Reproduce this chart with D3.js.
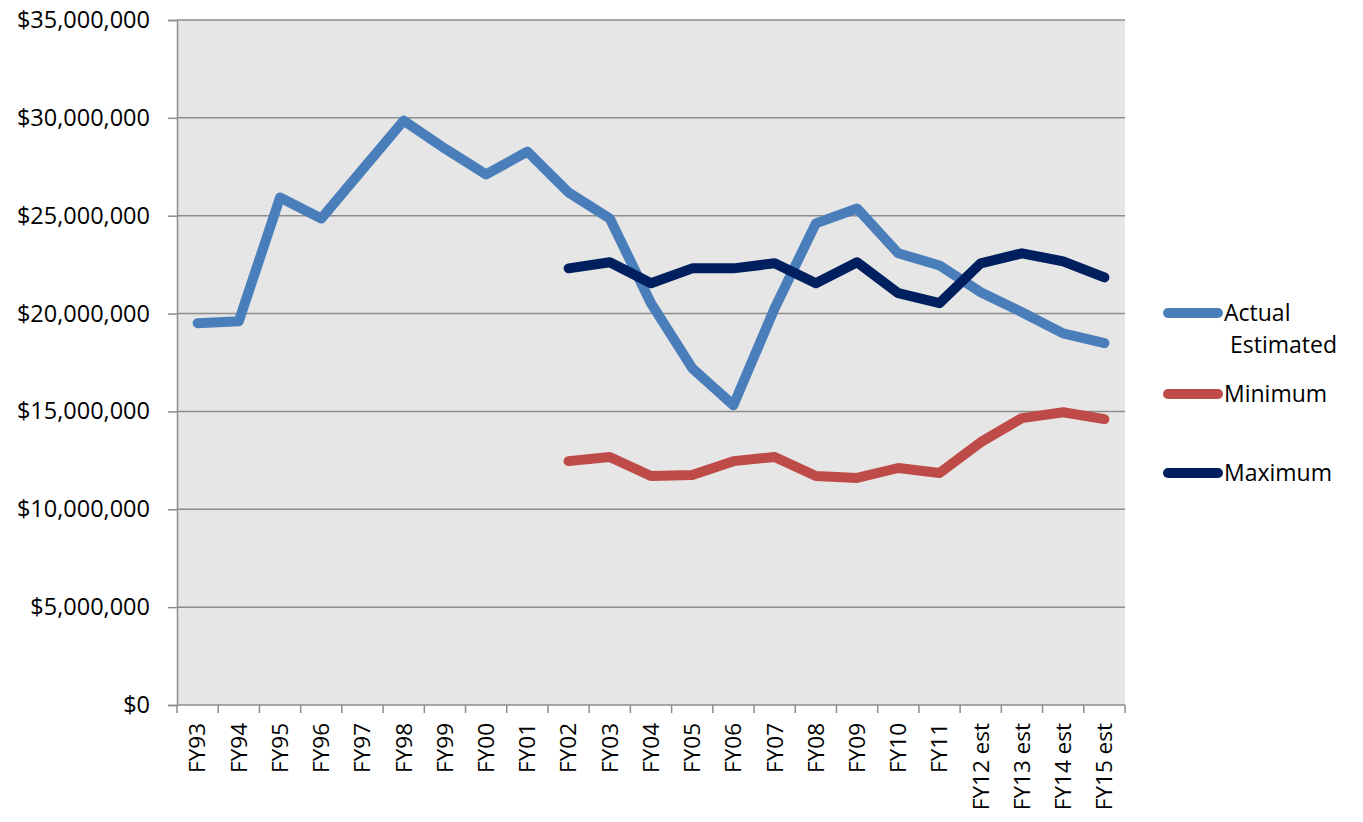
<!DOCTYPE html>
<html>
<head>
<meta charset="utf-8">
<script src="https://cdn.jsdelivr.net/npm/d3@7"></script>
<style>
  body { margin: 0; background: #fff; }
  text { font-family: "Open Sans", "Liberation Sans", sans-serif; fill: #000; }
</style>
</head>
<body>
<div id="chart"></div>
<script>
var years = ["FY93","FY94","FY95","FY96","FY97","FY98","FY99","FY00","FY01","FY02","FY03","FY04",
             "FY05","FY06","FY07","FY08","FY09","FY10","FY11","FY12 est","FY13 est","FY14 est","FY15 est"]

// millions of dollars
var actual = [19.51,19.61,25.93,24.86,27.36,29.86,28.43,27.11,28.28,26.19,24.86,20.53,
              17.21,15.32,20.27,24.61,25.37,23.08,22.46,21.09,20.07,18.99,18.49]
var minimum = [null,null,null,null,null,null,null,null,null,12.46,12.67,11.70,
               11.75,12.46,12.67,11.70,11.60,12.11,11.85,13.43,14.66,14.96,14.61]
var maximum = [null,null,null,null,null,null,null,null,null,22.31,22.62,21.55,
               22.31,22.31,22.57,21.55,22.62,21.04,20.53,22.57,23.08,22.67,21.85]

var yTicks = [0,5000000,10000000,15000000,20000000,25000000,30000000,35000000]
var seriesNames = ["Actual Estimated","Minimum","Maximum"]
var seriesColors = ["#4a7ebb","#be4b48","#001f5f"]

var width = 1363, height = 822
var mLeft = 177, mTop = 20, plotW = 948, plotH = 685

var svg = d3.select("#chart").append("svg")
    .attr("width", width)
    .attr("height", height)

var x = d3.scaleBand().domain(years).range([mLeft, mLeft+plotW]).paddingInner(0).paddingOuter(0)
var y = d3.scaleLinear().domain([0, 35000000]).range([mTop+plotH, mTop])

// plot background
svg.append("rect")
    .attr("x", mLeft).attr("y", mTop)
    .attr("width", plotW).attr("height", plotH)
    .attr("fill", "#e6e6e6")

// gridlines
svg.append("g").selectAll("line")
    .data(yTicks.slice(1))
    .enter().append("line")
    .attr("x1", mLeft).attr("x2", mLeft+plotW)
    .attr("y1", function(d){ return y(d) }).attr("y2", function(d){ return y(d) })
    .attr("stroke", "#8c8c8c").attr("stroke-width", 1.5)

// y axis
var yAxis = svg.append("g")
    .attr("transform", "translate("+mLeft+",0)")
    .call(d3.axisLeft(y).tickValues(yTicks).tickSize(9).tickPadding(18)
        .tickFormat(function(d){ return "$"+d3.format(",")(d) }))
yAxis.select(".domain").attr("stroke", "#8c8c8c").attr("stroke-width", 1.5)
yAxis.selectAll(".tick line").attr("stroke", "#8c8c8c").attr("stroke-width", 1.5)
yAxis.selectAll("text").attr("font-size", "23.5px").attr("font-family", null).attr("fill", "#000")

// x axis line + ticks at category boundaries
var xg = svg.append("g")
xg.append("line")
    .attr("x1", mLeft).attr("x2", mLeft+plotW)
    .attr("y1", y(0)).attr("y2", y(0))
    .attr("stroke", "#8c8c8c").attr("stroke-width", 1.5)
xg.selectAll(".xt")
    .data(years.concat(["_end"]))
    .enter().append("line")
    .attr("class", "xt")
    .attr("x1", function(d){ return d=="_end" ? x.range()[1] : x(d) })
    .attr("x2", function(d){ return d=="_end" ? x.range()[1] : x(d) })
    .attr("y1", y(0)).attr("y2", y(0)+8)
    .attr("stroke", "#8c8c8c").attr("stroke-width", 1.5)
xg.selectAll(".xl")
    .data(years)
    .enter().append("text")
    .attr("class", "xl")
    .attr("transform", function(d){
        return "translate("+(x(d)+x.bandwidth()/2)+","+(y(0)+18)+") rotate(-90)" })
    .attr("text-anchor", "end")
    .attr("dy", "0.35em")
    .attr("font-size", "22.5px")
    .text(function(d){ return d })

// lines
var all = [actual, minimum, maximum]
var line = d3.line()
    .defined(function(d){ return d != null })
    .x(function(d,i){ return x(years[i]) + x.bandwidth()/2 })
    .y(function(d){ return y(d*1000000) })

svg.append("g").selectAll("path")
    .data(all)
    .enter().append("path")
    .attr("d", line)
    .attr("fill", "none")
    .attr("stroke", function(d,i){ return seriesColors[i] })
    .attr("stroke-width", 10)
    .attr("stroke-linejoin", "round")
    .attr("stroke-linecap", "round")

// legend
var legY = [313, 394, 473]
var leg = svg.append("g").selectAll("g")
    .data(seriesNames)
    .enter().append("g")
    .attr("transform", function(d,i){ return "translate(1168,"+legY[i]+")" })
leg.append("line")
    .attr("x1", 0).attr("x2", 50)
    .attr("stroke", function(d,i){ return seriesColors[i] })
    .attr("stroke-width", 10)
    .attr("stroke-linecap", "round")
leg.each(function(d){
    var words = d.split(" ")
    var t = d3.select(this).append("text")
        .attr("x", 56).attr("y", 0)
        .attr("font-size", "23px")
    words.forEach(function(w, k){
        t.append("tspan")
            .attr("x", k==0 ? 56 : 62)
            .attr("dy", k==0 ? "0.35em" : 32)
            .text(w)
    })
})
</script>
</body>
</html>
